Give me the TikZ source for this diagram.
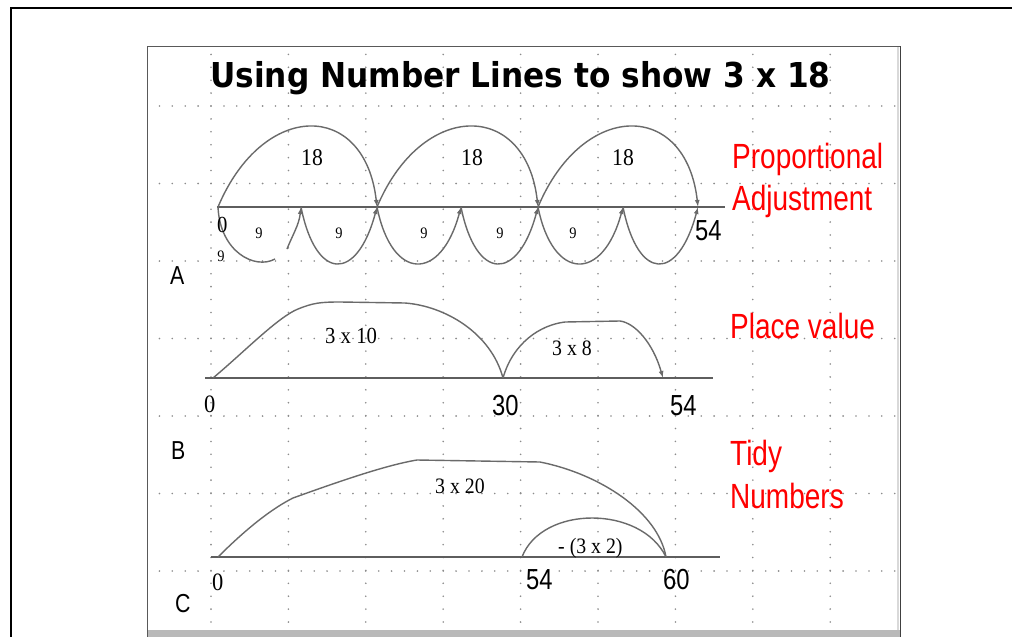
\documentclass[tikz,border=0pt]{standalone}
\usepackage{fontspec}
\usetikzlibrary{arrows.meta}
\newfontfamily\titlefont[FakeStretch=0.91]{DejaVu Sans}
\newfontfamily\sansn[FakeStretch=0.82]{Liberation Sans}
\newfontfamily\redfont[FakeStretch=0.8]{Liberation Sans}
\newfontfamily\serifn[FakeStretch=0.9]{Liberation Serif}
\definecolor{arcgray}{HTML}{6A6A6A}
\definecolor{linegray}{HTML}{5E5E5E}
\definecolor{dotgray}{HTML}{8C8C8C}
\tikzset{
  lbl/.style={inner sep=0pt, anchor=base west},
  redlbl/.style={lbl, text=red, font=\redfont\fontsize{35}{35}\selectfont},
  numlbl/.style={lbl, font=\sansn\fontsize{29}{29}\selectfont},
  rowlbl/.style={lbl, font=\sansn\fontsize{26}{26}\selectfont},
  serlbl/.style={lbl, font=\serifn\fontsize{22}{22}\selectfont},
  nine/.style={inner sep=0pt, anchor=base, font=\serifn\fontsize{16}{16}\selectfont},
  eighteen/.style={inner sep=0pt, anchor=base, font=\serifn\fontsize{24}{24}\selectfont},
  arcline/.style={draw=arcgray, line width=1.4pt},
  tip/.style={-{Latex[length=7pt,width=5pt]}},
  numline/.style={draw=linegray, line width=1.6pt},
}
\begin{document}
\begin{tikzpicture}[x=1pt,y=-1pt]
\useasboundingbox (0,0) rectangle (1012,637);
% outer frame
\draw[line width=2.5pt] (11,637) -- (11,8) -- (1012,8);
% panel
\fill[white] (147,46) rectangle (900,630);
\fill[gray!55] (147,630) rectangle (900,637);
\draw[black!65, line width=1pt] (147,637) -- (147,46) -- (900,46);
\draw[gray!30, line width=2pt] (897.5,47) -- (897.5,630);
\draw[black!75, line width=1.5pt] (900.5,46) -- (900.5,637);
% dotted grid
\foreach \j in {0,...,6} {
  \foreach \i in {0,...,57} {
    \fill[dotgray] ({159.4+12.9*\i},{106+77.5*\j}) circle (0.9);
  }
}
\foreach \k in {0,...,8} {
  \foreach \i in {0,...,44} {
    \fill[dotgray] ({211+77.4*\k},{54.4+12.9*\i}) circle (0.9);
  }
}
% title
\node[lbl, font=\titlefont\bfseries\fontsize{34.3}{34.3}\selectfont] (title) at (210,87) {Using Number Lines to show 3 x 18};
% right labels
\node[redlbl] (prop) at (732,168) {Proportional};
\node[redlbl] (adj) at (732,210) {Adjustment};
\node[redlbl] (place) at (730,338) {Place value};
\node[redlbl] (tidy) at (730,465) {Tidy};
\node[redlbl] (numbers) at (730,508) {Numbers};
% row letters
\node[rowlbl] (lA) at (170,284) {A};
\node[rowlbl] (lB) at (171,459) {B};
\node[rowlbl] (lC) at (175,612) {C};

% ---------- A ----------
\coordinate (aL) at (217,207);
\coordinate (aR) at (725,207);
\coordinate (a0) at (218,207);
\coordinate (a9) at (301,207);
\coordinate (a18) at (377,207);
\coordinate (a27) at (461,207);
\coordinate (a36) at (538,207);
\coordinate (a45) at (623,207);
\coordinate (a54) at (698,207);
\coordinate (a0e) at (275,259);
\coordinate (a9s) at (287,249);
\draw[numline, line width=1.4pt] (aL) -- (aR);
\draw[arcline, tip] (a0) .. controls +(45,-107) and +(-12,-107) .. (a18);
\draw[arcline, tip] (a18) .. controls +(45,-107) and +(-12,-107) .. (a36);
\draw[arcline, tip] (a36) .. controls +(45,-107) and +(-12,-107) .. (a54);
\draw[arcline] (a0) .. controls (220,252) and (255,270) .. (a0e);
\draw[arcline, tip] (a9s) .. controls +(6,-15) and +(-2,18) .. (a9);
\draw[arcline, tip] (a9) .. controls +(15,75) and +(-20,75) .. (a18);
\draw[arcline, tip] (a18) .. controls +(15,75) and +(-20,75) .. (a27);
\draw[arcline, tip] (a27) .. controls +(15,75) and +(-20,75) .. (a36);
\draw[arcline, tip] (a36) .. controls +(15,75) and +(-20,75) .. (a45);
\draw[arcline, tip] (a45) .. controls +(15,75) and +(-20,75) .. (a54);
\node[eighteen] (e1) at (312,165) {18};
\node[eighteen] (e2) at (472,165) {18};
\node[eighteen] (e3) at (623,165) {18};
\node[nine] (n1) at (259,238) {9};
\node[nine] (n2) at (339,238) {9};
\node[nine] (n3) at (424,238) {9};
\node[nine] (n4) at (500,238) {9};
\node[nine] (n5) at (573,238) {9};
\node[nine] (n6) at (221,261) {9};
\node[serlbl, font=\serifn\fontsize{23}{23}\selectfont] (azero) at (217,232) {0};
\node[numlbl] (a54l) at (695,240) {54};

% ---------- B ----------
\coordinate (bL) at (205,378);
\coordinate (bR) at (713,378);
\coordinate (b0) at (213,378);
\coordinate (bk1) at (298,309);
\coordinate (bk2) at (340,302);
\coordinate (bk3) at (405,303);
\coordinate (b30) at (503,378);
\coordinate (bk4) at (565,322);
\coordinate (bk5) at (620,321);
\coordinate (b54) at (663,378);
\draw[numline] (bL) -- (bR);
\draw[arcline] (b0) .. controls +(30,-25) and +(-20,8) .. (bk1)
               .. controls +(15,-6) and +(-20,0) .. (bk2)
               -- (bk3)
               .. controls +(40,3) and +(-12,-45) .. (b30);
\draw[arcline, tip] (b30) .. controls +(10,-35) and +(-25,3) .. (bk4)
               -- (bk5)
               .. controls +(15,2) and +(-10,-35) .. (b54);
\node[serlbl, font=\serifn\fontsize{25}{25}\selectfont] (bzero) at (204,412) {0};
\node[numlbl] (b30l) at (492,415) {30};
\node[numlbl] (b54l) at (670,415) {54};
\node[serlbl, font=\serifn\fontsize{23}{23}\selectfont] (b10) at (325,343) {3 x 10};
\node[serlbl] (b8) at (552,355) {3 x 8};

% ---------- C ----------
\coordinate (cL) at (211,557);
\coordinate (cR) at (720,557);
\coordinate (c0) at (218,557);
\coordinate (ct1) at (293,498);
\coordinate (ct2) at (417,460);
\coordinate (cf) at (540,462);
\coordinate (c54) at (522,557);
\coordinate (c60) at (666,557);
\draw[numline] (cL) -- (cR);
\draw[arcline] (c0) .. controls +(30,-30) and +(-20,10) .. (ct1)
               .. controls +(50,-18) and +(-30,5) .. (ct2)
               -- (cf)
               .. controls +(60,12) and +(-8,-45) .. (c60);
\draw[arcline] (c54) .. controls +(20,-52) and +(-25,-52) .. (c60);
\node[serlbl, font=\serifn\fontsize{25}{25}\selectfont] (czero) at (212,590) {0};
\node[numlbl] (c54l) at (526,589) {54};
\node[numlbl] (c60l) at (663,589) {60};
\node[serlbl] (c20) at (435,493) {3 x 20};
\node[serlbl] (c2) at (558,553) {- (3 x 2)};
\end{tikzpicture}
\end{document}
